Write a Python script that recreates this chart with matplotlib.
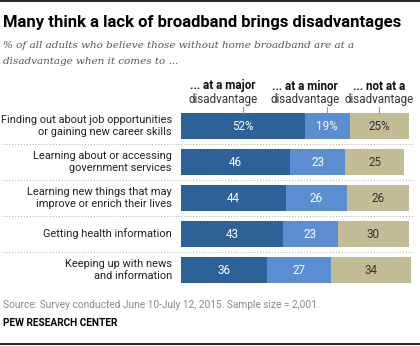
import matplotlib
matplotlib.use("Agg")
import matplotlib.pyplot as plt
from matplotlib.lines import Line2D
import numpy as np

# data
categories = [
    "Finding out about job opportunities\nor gaining new career skills",
    "Learning about or accessing\ngovernment services",
    "Learning new things that may\nimprove or enrich their lives",
    "Getting health information",
    "Keeping up with news\nand information",
]
major = [52, 46, 44, 43, 36]
minor = [19, 23, 26, 23, 27]
not_at = [25, 25, 26, 30, 34]
series_labels = ["... at a major\ndisadvantage", "... at a minor\ndisadvantage", "... not at a\ndisadvantage"]
colors = ["#2d6299", "#5b8ed0", "#c3bd95"]
text_colors = ["white", "white", "#333333"]

W, H = 420, 346
fig = plt.figure(figsize=(W / 100, H / 100), dpi=100)

def fx(x):
    return x / W

def fy(y):
    return 1 - y / H

# bar axes: x 181..418.5 px, y 108..288 px
ax = fig.add_axes([fx(181), fy(288), 237.5 / W, 180 / H])
ax.set_xlim(0, 100)
ax.set_ylim(4.5, -0.5)
ax.axis("off")

y = np.arange(len(categories))
left = np.zeros(len(categories))
for vals, c, tc in zip([major, minor, not_at], colors, text_colors):
    vals = np.array(vals)
    ax.barh(y, vals, left=left, height=0.72, color=c, edgecolor="none")
    for i, (l, v) in enumerate(zip(left, vals)):
        s = f"{v}%" if i == 0 else f"{v}"
        ax.text(l + v / 2, i, s, ha="center", va="center", color=tc,
                fontsize=8.4, family="Roboto")
    left = left + vals

# category labels
for i, cat in enumerate(categories):
    ax.text(-3.8, i, cat, ha="right", va="center", fontsize=7.9,
            family="Roboto", color="#222222", linespacing=1.2, clip_on=False)

# header ticks at the centres of the first row
cum = np.cumsum([0, major[0], minor[0]])
firsts = [major[0], minor[0], not_at[0]]
for c0, v in zip(cum, firsts):
    ax.plot([c0 + v / 2, c0 + v / 2], [-0.53, -0.36], color="#999999",
            lw=0.8, clip_on=False)

# headers
header_x = [223, 305, 379]
for hx, lab in zip(header_x, series_labels):
    top, bottom = lab.split("\n")
    fig.text(fx(hx), fy(86), top, ha="center", va="center", fontsize=8.4,
             family="Roboto", fontweight="bold", color="#111111")
    fig.text(fx(hx), fy(100), bottom, ha="center", va="center", fontsize=8.4,
             family="Roboto", color="#333333")

# dotted separators
for sy in [144, 180, 216, 252]:
    fig.add_artist(Line2D([fx(3), fx(413)], [fy(sy), fy(sy)], color="#aaaaaa",
                          lw=0.7, linestyle=(0, (1, 2))))

# frame lines
fig.add_artist(Line2D([0, 1], [fy(1), fy(1)], color="black", lw=1.2))
fig.add_artist(Line2D([0, 1], [fy(344), fy(344)], color="black", lw=1.2))

# title / subtitle
fig.text(fx(3), fy(22), "Many think a lack of broadband brings disadvantages",
         ha="left", va="center", fontsize=12, family="Roboto",
         fontweight="bold", color="black")
fig.text(fx(3), fy(45), "% of all adults who believe those without home broadband are at a",
         ha="left", va="center", fontsize=7.5, family="DejaVu Serif",
         style="italic", color="#555555")
fig.text(fx(3), fy(62), "disadvantage when it comes to ...",
         ha="left", va="center", fontsize=7.5, family="DejaVu Serif",
         style="italic", color="#555555")

# footer
fig.text(fx(3), fy(305), "Source: Survey conducted June 10-July 12, 2015. Sample size = 2,001.",
         ha="left", va="center", fontsize=7.3, family="Roboto", color="#8a8a8a")
fig.text(fx(3), fy(323), "PEW RESEARCH CENTER", ha="left", va="center",
         fontsize=7.3, family="Roboto", fontweight="bold", color="black")

fig.savefig("out.png", dpi=100)
